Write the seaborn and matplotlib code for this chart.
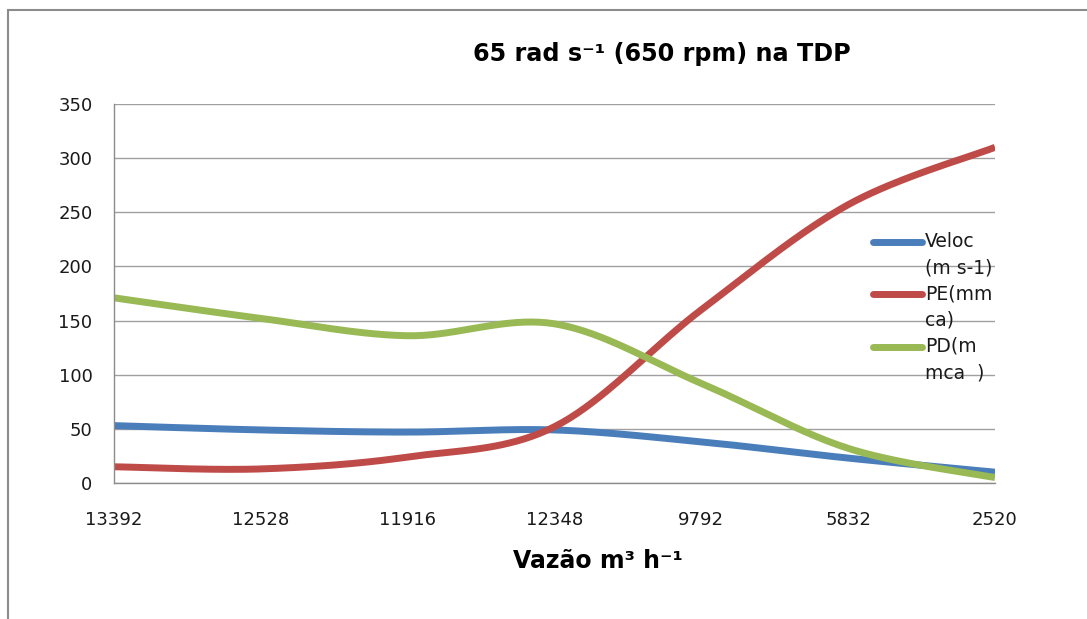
import numpy as np
import pandas as pd
import matplotlib
matplotlib.use("Agg")
import matplotlib.pyplot as plt
from matplotlib.lines import Line2D
from matplotlib.patches import Rectangle
import seaborn as sns

# Flow-rate categories (m3/h) in the order they were measured
categories = ["13392", "12528", "11916", "12348", "9792", "5832", "2520"]
veloc = [53, 49, 47, 49, 38, 23, 10]        # Veloc (m s-1)
pe = [15, 13, 24, 52, 160, 257, 310]        # PE (mmca)
pd_vals = [171, 152, 136, 147, 92, 32, 5]   # PD (mmca)
series_names = ["Veloc\n(m s-1)", "PE(mm\nca)", "PD(m\nmca  )"]
y_ticks = [0, 50, 100, 150, 200, 250, 300, 350]

colors = ["#4A7EBB", "#BE4B48", "#98B954"]

sns.set_theme(style="white")
plt.rcParams["font.family"] = ["DejaVu Sans"]


def smooth(y, n=40):
    """Catmull-Rom style Bezier smoothing through the category points."""
    y = np.asarray(y, dtype=float)
    x = np.arange(len(y), dtype=float)
    P = np.column_stack([x, y])
    Pext = np.vstack([P[0], P, P[-1]])
    xs, ys = [], []
    t = np.linspace(0, 1, n)
    for i in range(len(P) - 1):
        p0, p1, p2, p3 = Pext[i], Pext[i + 1], Pext[i + 2], Pext[i + 3]
        b1 = p1 + (p2 - p0) / 6.0
        b2 = p2 - (p3 - p1) / 6.0
        pts = ((1 - t)[:, None] ** 3 * p1 + 3 * ((1 - t) ** 2 * t)[:, None] * b1
               + 3 * ((1 - t) * t ** 2)[:, None] * b2 + (t ** 3)[:, None] * p2)
        if i > 0:
            pts = pts[1:]
        xs.append(pts[:, 0])
        ys.append(pts[:, 1])
    return np.concatenate(xs), np.concatenate(ys)


fig = plt.figure(figsize=(10.87, 6.19), dpi=100)
ax = fig.add_axes([114 / 1087, 136 / 619, 881 / 1087, 379 / 619])

frames = []
for name, vals in zip(series_names, [veloc, pe, pd_vals]):
    xs, ys = smooth(vals)
    frames.append(pd.DataFrame({"x": xs, "y": ys, "serie": name}))
df = pd.concat(frames, ignore_index=True)

line_w = 5.0
sns.lineplot(data=df, x="x", y="y", hue="serie", palette=colors, sort=False,
             linewidth=line_w, legend=False, ax=ax, solid_capstyle="butt")

ax.set_xlim(0, len(categories) - 1)
ax.set_ylim(0, 350)
ax.set_xticks(range(len(categories)))
ax.set_xticklabels(categories)
ax.set_yticks(y_ticks)
ax.set_yticklabels([str(v) for v in y_ticks])
ax.tick_params(axis="both", labelsize=13, labelcolor="#1a1a1a", width=1)
ax.tick_params(axis="x", color="#8C8C8C", direction="inout", length=10, pad=15)
ax.tick_params(axis="y", color="#8C8C8C", direction="out", length=6.5, pad=9)
ax.yaxis.grid(True, color="#A0A0A0", linewidth=1)
ax.xaxis.grid(False)
ax.set_axisbelow(True)
for side in ["top", "right"]:
    ax.spines[side].set_visible(False)
for side in ["left", "bottom"]:
    ax.spines[side].set_color("#8C8C8C")
    ax.spines[side].set_linewidth(1)
ax.set_xlabel("")
ax.set_ylabel("")

# Title and axis title
fig.text(662 / 1087, 1 - 54 / 619, "65 rad s⁻¹ (650 rpm) na TDP",
         ha="center", va="center", fontsize=17.2, fontweight="bold",
         color="#000000")
fig.text(598 / 1087, 1 - 561 / 619, "Vazão m³ h⁻¹",
         ha="center", va="center", fontsize=17, fontweight="bold",
         color="#000000")

# Legend at the right, wrapped labels with the key beside the first line
leg_y = [242, 294, 347]
for c, name, yy in zip(colors, series_names, leg_y):
    fy = 1 - yy / 619
    fig.add_artist(Line2D([873 / 1087, 922 / 1087], [fy, fy], color=c,
                          linewidth=line_w, solid_capstyle="round"))
    fig.text(925 / 1087, fy + 10 / 619, name, ha="left", va="top",
             fontsize=13.5, color="#1a1a1a", linespacing=1.5)

# Chart area border
fig.add_artist(Rectangle((8 / 1087, -0.05), 1.2, 1 - 10 / 619 + 0.05,
                         transform=fig.transFigure, fill=False,
                         edgecolor="#8C8C8C", linewidth=1.5))

fig.savefig("out.png", dpi=100)
